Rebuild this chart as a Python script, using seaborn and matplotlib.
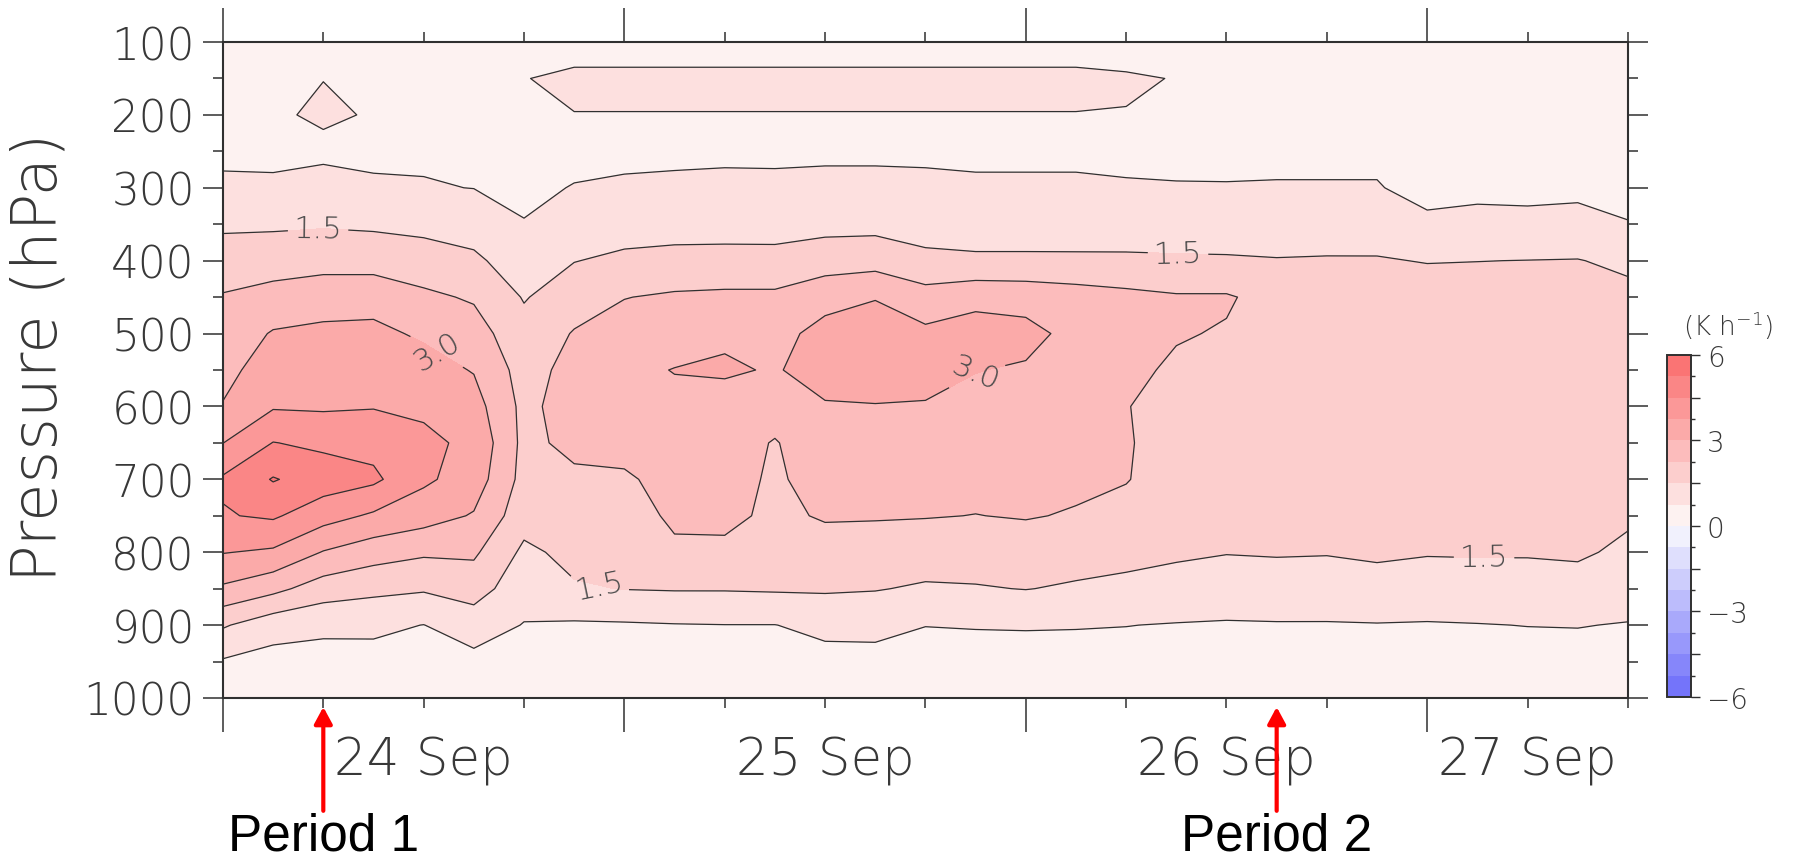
import numpy as np
import matplotlib
matplotlib.use("Agg")
import matplotlib.pyplot as plt
import matplotlib.transforms as mtransforms
from matplotlib.colors import ListedColormap, BoundaryNorm
from matplotlib.ticker import FixedLocator, FixedFormatter
import seaborn as sns

# Time axis: hours after 00 UTC 24 Sep; vertical axis: pressure levels (hPa)
hours = [0, 3, 6, 9, 12, 15, 18, 21, 24, 27, 30, 33, 36, 39, 42,
         45, 48, 51, 54, 57, 60, 63, 66, 69, 72, 75, 78, 81, 84]
pressure = [100, 150, 200, 250, 300, 350, 400, 450, 500, 550,
            600, 650, 700, 750, 800, 850, 900, 950, 1000]

# Heating rate (K h-1) at each pressure level, one value per time step
q100 = [0.30] * 29
q150 = [0.43, 0.50, 0.74, 0.50, 0.45, 0.55, 0.72, 0.95, 0.95, 0.95, 0.95, 0.95, 0.95, 0.95, 0.95,
        0.95, 0.95, 0.95, 0.85, 0.72, 0.55, 0.50, 0.50, 0.50, 0.45, 0.45, 0.45, 0.45, 0.45]
q200 = [0.55, 0.66, 0.85, 0.70, 0.55, 0.55, 0.62, 0.73, 0.73, 0.73, 0.73, 0.73, 0.73, 0.73, 0.73,
        0.73, 0.73, 0.73, 0.72, 0.62, 0.60, 0.60, 0.60, 0.60, 0.52, 0.52, 0.52, 0.52, 0.52]
q250 = [0.68, 0.68, 0.60, 0.66, 0.66, 0.62, 0.60, 0.62, 0.65, 0.65, 0.66, 0.66, 0.67, 0.67, 0.66,
        0.67, 0.67, 0.67, 0.62, 0.62, 0.65, 0.68, 0.68, 0.68, 0.60, 0.60, 0.60, 0.60, 0.58]
q300 = [0.81, 0.80, 1.02, 0.81, 0.79, 0.74, 0.65, 0.77, 0.81, 0.84, 0.86, 0.85, 0.87, 0.87, 0.86,
        0.81, 0.81, 0.81, 0.80, 0.78, 0.77, 0.77, 0.77, 0.77, 0.64, 0.66, 0.65, 0.66, 0.60]
q350 = [1.37, 1.39, 1.44, 1.39, 1.30, 1.17, 0.77, 1.12, 1.20, 1.24, 1.26, 1.25, 1.28, 1.29, 1.23,
        1.20, 1.20, 1.19, 1.18, 1.17, 1.15, 1.17, 1.17, 1.16, 0.82, 0.86, 0.85, 0.88, 0.77]
q400 = [1.88, 1.93, 1.94, 1.94, 1.84, 1.64, 1.10, 1.48, 1.64, 1.70, 1.70, 1.70, 1.90, 1.96, 1.65,
        1.60, 1.60, 1.60, 1.60, 1.58, 1.57, 1.53, 1.55, 1.55, 1.47, 1.49, 1.51, 1.53, 1.33]
q450 = [2.30, 2.50, 2.75, 2.75, 2.39, 2.17, 1.45, 1.90, 2.23, 2.35, 2.40, 2.40, 2.74, 2.96, 2.56,
        2.80, 2.75, 2.60, 2.45, 2.32, 2.32, 2.00, 1.95, 1.90, 1.85, 1.85, 1.85, 1.85, 1.72]
q500 = [2.54, 3.06, 3.12, 3.16, 2.90, 2.57, 1.75, 2.30, 2.55, 2.70, 2.90, 2.75, 3.25, 3.40, 3.15,
        3.30, 3.20, 2.80, 2.45, 2.30, 2.20, 2.05, 2.00, 1.95, 1.95, 1.95, 1.93, 1.93, 1.85]
q550 = [2.78, 3.37, 3.39, 3.43, 3.28, 2.96, 1.95, 2.50, 2.85, 3.02, 3.08, 2.95, 3.25, 3.35, 3.30,
        3.02, 2.93, 2.75, 2.40, 2.15, 2.05, 2.00, 1.98, 1.95, 1.97, 1.97, 1.95, 1.95, 1.90]
q600 = [3.04, 3.68, 3.65, 3.71, 3.63, 3.30, 2.05, 2.60, 2.75, 2.85, 2.75, 2.60, 2.95, 2.97, 2.94,
        2.81, 2.77, 2.62, 2.27, 2.05, 1.95, 1.95, 1.95, 1.93, 1.95, 1.95, 1.93, 1.93, 1.90]
q650 = [3.74, 4.52, 4.35, 4.26, 3.90, 3.60, 2.05, 2.45, 2.50, 2.65, 2.60, 2.20, 2.74, 2.75, 2.72,
        2.63, 2.61, 2.50, 2.30, 2.00, 1.90, 1.90, 1.90, 1.90, 1.90, 1.90, 1.90, 1.90, 1.85]
q700 = [4.60, 5.30, 4.90, 4.65, 3.88, 3.40, 2.00, 2.10, 2.15, 2.50, 2.50, 2.15, 2.53, 2.53, 2.50,
        2.43, 2.45, 2.38, 2.28, 1.95, 1.85, 1.85, 1.85, 1.85, 1.85, 1.85, 1.85, 1.85, 1.75]
q750 = [4.45, 4.60, 4.05, 3.64, 3.32, 2.94, 1.80, 1.95, 2.00, 2.35, 2.40, 2.12, 2.31, 2.30, 2.28,
        2.24, 2.29, 2.20, 2.05, 1.85, 1.75, 1.75, 1.75, 1.75, 1.72, 1.72, 1.72, 1.75, 1.60]
q800 = [3.78, 3.64, 2.96, 2.57, 2.36, 2.37, 1.35, 1.70, 1.80, 2.15, 2.12, 2.00, 1.98, 1.94, 1.88,
        1.85, 1.93, 1.82, 1.72, 1.62, 1.53, 1.56, 1.54, 1.60, 1.55, 1.56, 1.56, 1.60, 1.36]
q850 = [2.89, 2.46, 1.88, 1.69, 1.58, 1.82, 1.05, 1.43, 1.52, 1.55, 1.55, 1.58, 1.59, 1.54, 1.41,
        1.45, 1.52, 1.41, 1.32, 1.19, 1.08, 1.13, 1.12, 1.25, 1.12, 1.16, 1.17, 1.22, 1.05]
q900 = [1.58, 1.05, 0.90, 0.88, 0.74, 1.10, 0.72, 0.66, 0.68, 0.72, 0.74, 0.74, 0.91, 0.92, 0.76,
        0.78, 0.79, 0.78, 0.76, 0.72, 0.70, 0.71, 0.71, 0.72, 0.71, 0.73, 0.76, 0.77, 0.72]
q950 = [0.68, 0.50, 0.50, 0.54, 0.52, 0.55, 0.50, 0.50, 0.50, 0.50, 0.50, 0.50, 0.55, 0.56, 0.53,
        0.53, 0.53, 0.53, 0.53, 0.52, 0.50, 0.50, 0.50, 0.50, 0.50, 0.50, 0.52, 0.53, 0.50]
q1000 = [0.30] * 29

day_ticks = [0, 24, 48, 72]
day_label_hours = [12, 36, 60, 78]
day_labels = ["24 Sep", "25 Sep", "26 Sep", "27 Sep"]
period_hours = [6, 63]
period_labels = ["Period 1", "Period 2"]

# ---------------------------------------------------------------- style
sns.set_style("ticks")
plt.rcParams["font.family"] = ["DejaVu Sans"]
plt.rcParams["font.weight"] = 200
TXT = "#383838"
LINE = "#303030"

fig = plt.figure(figsize=(17.98, 8.62), dpi=100, facecolor="white")
ax = fig.add_axes([0.1240, 0.1891, 0.7814, 0.7610])
cax = fig.add_axes([0.9271, 0.1903, 0.01335, 0.3968])

field = np.array([q100, q150, q200, q250, q300, q350, q400, q450, q500, q550,
                  q600, q650, q700, q750, q800, q850, q900, q950, q1000])

levels = np.linspace(-6, 6, 17)
reds = sns.blend_palette(["#fdf2f1", "#fa7474"], n_colors=8)
blues = sns.blend_palette(["#7474fa", "#f1f1fd"], n_colors=8)
cmap = ListedColormap(list(blues) + list(reds))
norm = BoundaryNorm(levels, cmap.N)

cf = ax.contourf(hours, pressure, field, levels=levels, cmap=cmap, norm=norm)

# unlabeled isolines, then the labeled 1.5 and 3.0 isolines
labeled = [1.5, 3.0]
plain = [lv for lv in levels if not any(np.isclose(lv, labeled))]
ax.contour(hours, pressure, field, levels=plain, colors=LINE,
           linewidths=0.9, negative_linestyles="solid")
cs_lab = ax.contour(hours, pressure, field, levels=labeled, colors=LINE, linewidths=0.9)
label_spots = [(5.7, 361), (12.7, 528), (22.5, 845), (44.9, 546), (57.1, 394), (75.4, 806)]
ax.clabel(cs_lab, manual=label_spots, inline=True, fmt="%.1f",
          fontsize=22, colors="#4a4a4a", inline_spacing=6)

ax.set_xlim(0, 84)
ax.set_ylim(1000, 100)

# ---------------------------------------------------------------- axes, ticks
ax.set_xticks(day_ticks)
ax.set_xticks(np.arange(0, 85, 6), minor=True)
ax.set_xticklabels([])
ax.set_yticks(np.arange(100, 1001, 100))
ax.set_yticks(np.arange(150, 1000, 100), minor=True)

ax.tick_params(axis="x", which="major", direction="out", length=24.5, width=1.1,
               top=True, bottom=True, labelbottom=False, color=LINE)
ax.tick_params(axis="x", which="minor", direction="out", length=7.2, width=1.1,
               top=True, bottom=True, color=LINE)
ax.tick_params(axis="y", which="major", direction="out", length=14.4, width=1.1,
               left=True, right=True, labelleft=True, labelright=False,
               labelsize=31.5, pad=6, color=LINE, labelcolor=TXT)
ax.tick_params(axis="y", which="minor", direction="out", length=7.2, width=1.1,
               left=True, right=True, color=LINE)
for sp in ax.spines.values():
    sp.set_linewidth(1.5)
    sp.set_color(LINE)
    sp.set_visible(True)

trans = mtransforms.blended_transform_factory(ax.transData, ax.transAxes)
for h, lab in zip(day_label_hours, day_labels):
    ax.text(h, -0.1159, lab, transform=trans, ha="center", va="baseline",
            fontsize=37, color=TXT)

fig.text(40 / 1798, 1 - 357 / 862, "Pressure (hPa)", rotation=90, ha="center",
         va="center", fontsize=45, color=TXT)

# ---------------------------------------------------------------- colorbar
cb = fig.colorbar(cf, cax=cax)
cb.outline.set_linewidth(1.4)
cb.outline.set_edgecolor(LINE)
major = [-6, -4.5, -3, -1.5, 0, 1.5, 3, 4.5, 6]
cb.ax.yaxis.set_major_locator(FixedLocator(major))
cb.ax.yaxis.set_major_formatter(FixedFormatter(
    ["\u22126", "", "\u22123", "", "0", "", "3", "", "6"]))
cb.ax.yaxis.set_minor_locator(FixedLocator([-5.25, -3.75, -2.25, -0.75, 0.75, 2.25, 3.75, 5.25]))
cb.ax.tick_params(which="major", length=6.5, width=1.0, direction="out",
                  labelsize=20, pad=5, color=LINE, labelcolor=TXT)
cb.ax.tick_params(which="minor", length=3.2, width=1.0, direction="out", color=LINE)
fig.text(1728 / 1798, 1 - 342 / 862, "(K h$^{-1}$)", ha="center", va="bottom",
         fontsize=19, color=TXT)

# ---------------------------------------------------------------- period markers
for h, lab in zip(period_hours, period_labels):
    ax.annotate("", xy=(h, -0.0137), xycoords=trans, xytext=(h, -0.172), textcoords=trans,
                arrowprops=dict(arrowstyle="-|>,head_length=0.5,head_width=0.27",
                                color="#ff0000", lw=3, shrinkA=0, shrinkB=0,
                                mutation_scale=20),
                annotation_clip=False)
    ax.text(h, -0.2317, lab, transform=trans, ha="center", va="baseline",
            fontsize=37, family=["Liberation Sans"], fontweight="normal", color="black")

fig.savefig("out.png", dpi=100, facecolor="white")
